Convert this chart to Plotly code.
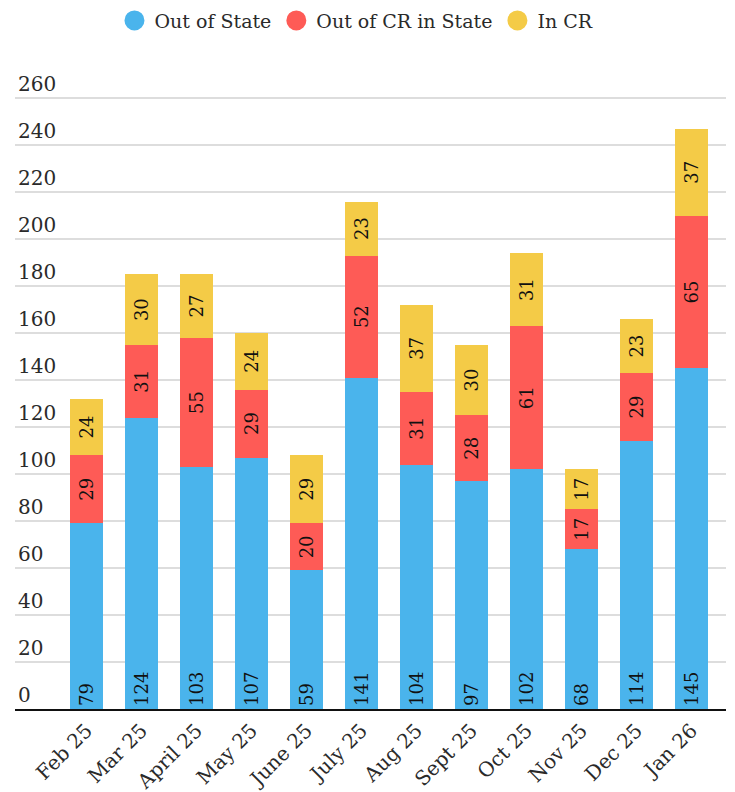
import plotly.graph_objects as go

months = ["Feb 25", "Mar 25", "April 25", "May 25", "June 25", "July 25",
          "Aug 25", "Sept 25", "Oct 25", "Nov 25", "Dec 25", "Jan 26"]
out_of_state = [79, 124, 103, 107, 59, 141, 104, 97, 102, 68, 114, 145]
out_of_cr_in_state = [29, 31, 55, 29, 20, 52, 31, 28, 61, 17, 29, 65]
in_cr = [24, 30, 27, 24, 29, 23, 37, 30, 31, 17, 23, 37]
y_ticks = list(range(0, 261, 20))

BLUE = "#4ab4ec"
RED = "#fe5b56"
YELLOW = "#f4cb47"
FONT = "DejaVu Serif"

fig = go.Figure()
series = [
    ("Out of State", out_of_state, BLUE, "start"),
    ("Out of CR in State", out_of_cr_in_state, RED, "middle"),
    ("In CR", in_cr, YELLOW, "middle"),
]
for name, vals, col, anchor in series:
    fig.add_trace(go.Bar(
        x=months, y=vals, name=name, marker=dict(color=col, line=dict(width=0)),
        text=[str(v) for v in vals], textposition="inside", insidetextanchor=anchor,
        textangle=-90, textfont=dict(family=FONT, size=18, color="#111111"),
        showlegend=False, hoverinfo="skip",
    ))
for name, vals, col, anchor in series:
    fig.add_trace(go.Scatter(
        x=[None], y=[None], mode="markers", name=name,
        marker=dict(color=col, size=16, symbol="circle", line=dict(color=col, width=4)),
        showlegend=True,
    ))

fig.update_layout(
    barmode="stack", bargap=0.4,
    width=735, height=792,
    margin=dict(l=15, r=9, t=70, b=83),
    plot_bgcolor="white", paper_bgcolor="white",
    font=dict(family=FONT, size=17, color="#2a2a2a"),
    legend=dict(orientation="h", x=0.485, xref="container", xanchor="center",
                y=0.998, yref="container", yanchor="top",
                font=dict(family=FONT, size=19, color="#2a2a2a"),
                itemsizing="trace", traceorder="normal"),
    xaxis=dict(range=[-1.3, 11.63], tickangle=-45, showgrid=False, automargin=False,
               showline=True, linecolor="#111111", linewidth=2,
               tickfont=dict(family=FONT, size=20, color="#2a2a2a"), ticks=""),
    yaxis=dict(range=[0, 272], tickvals=y_ticks, ticklabelposition="inside top",
               automargin=False,
               showgrid=True, gridcolor="#dddddd", gridwidth=1.5, zeroline=False,
               tickfont=dict(family=FONT, size=20, color="#2a2a2a"), ticks=""),
)
fig.write_html("out.html", config={"displayModeBar": False},
               post_script="document.body.style.margin='0';")
